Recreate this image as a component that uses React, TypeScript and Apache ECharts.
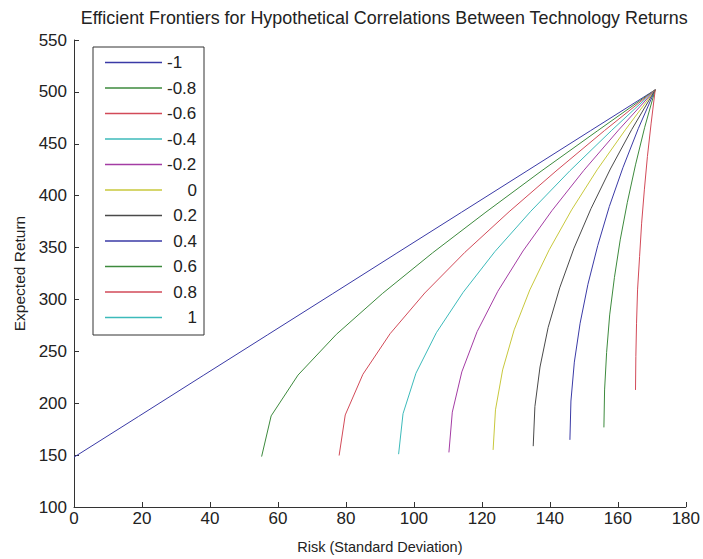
import React, { useEffect, useRef } from "react";
import * as echarts from "echarts";

const correlations = ["-1", "-0.8", "-0.6", "-0.4", "-0.2", "0", "0.2", "0.4", "0.6", "0.8", "1"];
const colors = ["#3a3aa6", "#3d8a3d", "#d24a58", "#3cbaba", "#a43ca4", "#c8c83c", "#4a4a4a", "#3a3aa6", "#3d8a3d", "#d24a58", "#3cbaba"];

const riskM10 = [0, 19, 38, 57, 76, 95, 114, 133, 152, 171];
const retM10 = [148, 187.3, 226.7, 266, 305.3, 344.7, 384, 423.3, 462.7, 502];
const riskM08 = [55.2, 58.0, 65.9, 77.2, 90.7, 105.5, 121.2, 137.4, 154.1, 171];
const retM08 = [148.6, 187.8, 227.1, 266.4, 305.6, 344.9, 384.2, 423.5, 462.7, 502];
const riskM06 = [78.0, 79.8, 85.0, 93.0, 103.2, 115.0, 128.0, 141.8, 156.1, 171];
const retM06 = [149.6, 188.7, 227.9, 267.0, 306.2, 345.4, 384.5, 423.7, 462.8, 502];
const riskM04 = [95.5, 96.8, 100.6, 106.6, 114.5, 123.8, 134.4, 145.9, 158.2, 171];
const retM04 = [150.9, 189.9, 228.9, 267.9, 306.9, 346.0, 385.0, 424.0, 463.0, 502];
const riskM02 = [110.3, 111.3, 114.1, 118.6, 124.7, 132.1, 140.6, 150.0, 160.2, 171];
const retM02 = [152.6, 191.4, 230.2, 269.0, 307.9, 346.7, 385.5, 424.4, 463.2, 502];
const riskP00 = [123.3, 124.0, 126.1, 129.5, 134.1, 139.8, 146.4, 153.9, 162.2, 171];
const retP00 = [155.0, 193.6, 232.1, 270.7, 309.2, 347.8, 386.3, 424.9, 463.4, 502];
const riskP02 = [135.1, 135.6, 137.1, 139.5, 142.9, 147.1, 152.1, 157.8, 164.1, 171];
const retP02 = [158.6, 196.8, 234.9, 273.1, 311.2, 349.4, 387.5, 425.7, 463.8, 502];
const riskP04 = [145.9, 146.2, 147.2, 148.9, 151.2, 154.1, 157.5, 161.5, 166.0, 171];
const retP04 = [164.7, 202.1, 239.6, 277.1, 314.6, 352.1, 389.6, 427.0, 464.5, 502];
const riskP06 = [155.9, 156.1, 156.7, 157.6, 159.0, 160.7, 162.8, 165.2, 167.9, 171];
const retP06 = [176.7, 212.8, 249.0, 285.1, 321.3, 357.4, 393.6, 429.7, 465.9, 502];
const riskP08 = [165.2, 165.3, 165.5, 165.8, 166.4, 167.0, 167.8, 168.7, 169.8, 171];
const retP08 = [212.8, 244.9, 277.1, 309.2, 341.3, 373.5, 405.6, 437.7, 469.9, 502];
const riskP10 = [171];
const retP10 = [502];

const riskSets = [riskM10, riskM08, riskM06, riskM04, riskM02, riskP00, riskP02, riskP04, riskP06, riskP08, riskP10];
const retSets = [retM10, retM08, retM06, retM04, retM02, retP00, retP02, retP04, retP06, retP08, retP10];

const xTicks = [0, 20, 40, 60, 80, 100, 120, 140, 160, 180];
const yTicks = [100, 150, 200, 250, 300, 350, 400, 450, 500, 550];

const FONT = "'Liberation Sans', Arial, sans-serif";
const AXIS = "#333333";
const TXT = "#222222";

export default function App() {
  const ref = useRef<HTMLDivElement>(null);
  useEffect(() => {
    if (!ref.current) return;
    const chart = echarts.init(ref.current, undefined, { renderer: "svg" });
    const series = correlations.map((name, i) => ({
      name,
      type: "line",
      data: riskSets[i].map((r, j) => [r, retSets[i][j]]),
      symbol: "none",
      showSymbol: false,
      lineStyle: { color: colors[i], width: 1 },
      itemStyle: { color: colors[i] },
      z: 2,
    }));
    chart.setOption({
      animation: false,
      backgroundColor: "#ffffff",
      title: {
        text: "Efficient Frontiers for Hypothetical Correlations Between Technology Returns",
        right: 15,
        top: 9,
        padding: 0,
        textStyle: { fontFamily: FONT, fontSize: 17.9, fontWeight: "normal", color: TXT },
      },
      legend: {
        orient: "vertical",
        left: 93,
        top: 47,
        padding: [7, 7, 9, 12],
        borderColor: "#333",
        borderWidth: 1,
        backgroundColor: "#ffffff",
        icon: "rect",
        itemWidth: 57,
        itemHeight: 1.3,
        itemGap: 8.5,
        selectedMode: false,
        data: correlations,
        formatter: (name: string) => (name.startsWith("-") ? `{n|${name}}` : `{p|${name}}`),
        textStyle: {
          fontFamily: FONT,
          fontSize: 17,
          color: TXT,
          rich: {
            n: { width: 30, height: 17, lineHeight: 17, align: "left", fontFamily: FONT, fontSize: 17, color: TXT },
            p: { width: 30, height: 17, lineHeight: 17, align: "right", fontFamily: FONT, fontSize: 17, color: TXT },
          },
        },
      },
      grid: { left: 74, right: 15, top: 40, bottom: 52, containLabel: false },
      xAxis: {
        type: "value",
        min: xTicks[0],
        max: xTicks[xTicks.length - 1],
        interval: 20,
        name: "Risk (Standard Deviation)",
        nameLocation: "middle",
        nameGap: 32,
        nameTextStyle: { fontFamily: FONT, fontSize: 14.5, color: TXT },
        axisLine: { show: true, lineStyle: { color: AXIS, width: 1 } },
        axisTick: { show: true, inside: true, length: 5, lineStyle: { color: AXIS } },
        axisLabel: { fontFamily: FONT, fontSize: 17, color: TXT, margin: 3 },
        splitLine: { show: false },
      },
      yAxis: {
        type: "value",
        min: yTicks[0],
        max: yTicks[yTicks.length - 1],
        interval: 50,
        name: "Expected Return",
        nameLocation: "middle",
        nameGap: 46,
        nameRotate: 90,
        nameTextStyle: { fontFamily: FONT, fontSize: 15.5, color: TXT },
        axisLine: { show: true, lineStyle: { color: AXIS, width: 1 } },
        axisTick: { show: true, inside: true, length: 5, lineStyle: { color: AXIS } },
        axisLabel: { fontFamily: FONT, fontSize: 17, color: TXT, margin: 7 },
        splitLine: { show: false },
      },
      series,
    });
    return () => chart.dispose();
  }, []);
  return (
    <div
      ref={ref}
      style={{ position: "absolute", left: 0, top: 0, width: 703, height: 559, background: "#fff" }}
    />
  );
}
